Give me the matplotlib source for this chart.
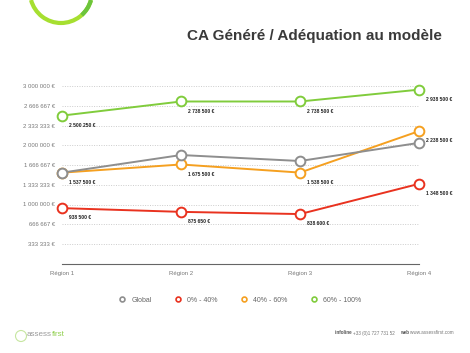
import matplotlib
matplotlib.use("Agg")
import matplotlib.pyplot as plt
from matplotlib.patches import Arc, Circle
from matplotlib.lines import Line2D

regions = ["Région 1", "Région 2", "Région 3", "Région 4"]
global_ca = [1537500, 1835000, 1734000, 2040000]
ca_0_40 = [938500, 875650, 838600, 1348500]
ca_40_60 = [1537500, 1675500, 1538500, 2238500]
ca_60_100 = [2500250, 2738500, 2738500, 2938500]
labels_0_40 = ["938 500 €", "875 650 €", "838 600 €", "1 348 500 €"]
labels_40_60 = ["1 537 500 €", "1 675 500 €", "1 538 500 €", "2 238 500 €"]
labels_60_100 = ["2 500 250 €", "2 738 500 €", "2 738 500 €", "2 938 500 €"]
yticks = [333333, 666667, 1000000, 1333333, 1666667, 2000000, 2333333, 2666667, 3000000]
ytick_labels = ["333 333 €", "666 667 €", "1 000 000 €", "1 333 333 €", "1 666 667 €",
                "2 000 000 €", "2 333 333 €", "2 666 667 €", "3 000 000 €"]

grey = "#8e8e8e"
red = "#e9321f"
orange = "#f5a020"
green = "#80cc3c"

plt.rcParams["font.family"] = ["Liberation Sans", "DejaVu Sans"]

fig = plt.figure(figsize=(4.7, 3.53), dpi=100)

# background decorations in pixel coordinates
bg = fig.add_axes([0, 0, 1, 1])
bg.set_xlim(0, 470)
bg.set_ylim(353, 0)
bg.axis("off")
bg.add_patch(Arc((61, -8), 62, 62, theta1=15, theta2=165, color="#a6df30", lw=3.0))
bg.add_patch(Arc((61, -8), 62, 62, theta1=15, theta2=48, color="#6cc43c", lw=3.0))
bg.text(314, 36, "CA Généré / Adéquation au modèle", ha="center", va="center",
        fontsize=11, fontweight="bold", color="#3a3a3a")

# footer
bg.add_patch(Circle((21, 336), 5.5, fill=False, ec="#c6e6a0", lw=0.8))
t1 = bg.text(27, 334, "assess", ha="left", va="center", fontsize=5.8, color="#9a9a9a")
bg.annotate("first", xy=(1, 0.5), xycoords=t1, ha="left", va="center",
            fontsize=5.8, color="#8fcf4c")
t2 = bg.text(335, 333, "infoline ", ha="left", va="center", fontsize=3.3,
             fontweight="bold", color="#555555")
t3 = bg.annotate("+33 (0)1 727 731 52    ", xy=(1, 0.5), xycoords=t2, ha="left",
                 va="center", fontsize=3.3, color="#777777")
t4 = bg.annotate("web ", xy=(1, 0.5), xycoords=t3, ha="left", va="center",
                 fontsize=3.3, fontweight="bold", color="#555555")
bg.annotate("www.assessfirst.com", xy=(1, 0.5), xycoords=t4, ha="left", va="center",
            fontsize=3.3, color="#777777")

ax = fig.add_axes([62 / 470, 1 - 263.75 / 353, (419 - 62) / 470, (263.75 - 86) / 353])
x = list(range(len(regions)))

series = [
    (ca_60_100, green),
    (ca_0_40, red),
    (ca_40_60, orange),
    (global_ca, grey),
]
for vals, col in series:
    ax.plot(x, vals, color=col, lw=1.4, marker="o", ms=7, mfc="white",
            mec=col, mew=1.4, clip_on=False, zorder=3)

for vals, labs in [(ca_60_100, labels_60_100), (ca_40_60, labels_40_60), (ca_0_40, labels_0_40)]:
    for xi, v, lab in zip(x, vals, labs):
        ax.annotate(lab, (xi, v), xytext=(5, -7), textcoords="offset points",
                    ha="left", va="center", fontsize=3.6, fontweight="bold", color="#222222")

ax.set_xlim(0, 3)
ax.set_ylim(0, 3000000)
ax.set_yticks(yticks)
ax.set_yticklabels(ytick_labels)
ax.set_xticks(x)
ax.set_xticklabels(regions)
ax.tick_params(length=0, labelsize=4.3, labelcolor="#777777")
ax.tick_params(axis="y", pad=5)
ax.tick_params(axis="x", pad=5)
ax.grid(axis="y", color="#cccccc", ls=(0, (1, 1.5)), lw=0.7)
for s in ["top", "right", "left"]:
    ax.spines[s].set_visible(False)
ax.spines["bottom"].set_color("#666666")
ax.spines["bottom"].set_linewidth(0.8)
ax.patch.set_alpha(0)

handles = [Line2D([], [], ls="none", marker="o", ms=3.5, mfc="white", mec=c, mew=1.2)
           for c in [grey, red, orange, green]]
fig.legend(handles, ["Global", "0% - 40%", "40% - 60%", "60% - 100%"],
           loc="center", bbox_to_anchor=(240 / 470, 1 - 300 / 353), ncol=4,
           frameon=False, fontsize=5, handlelength=1, handletextpad=0.8,
           columnspacing=3.3, labelcolor="#666666")

fig.savefig("out.png", dpi=100)
